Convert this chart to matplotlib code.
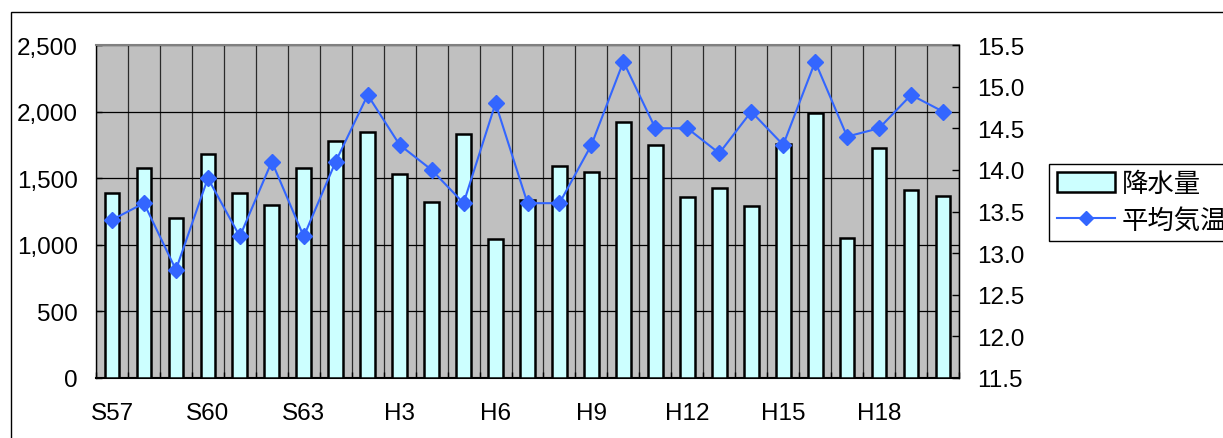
import matplotlib
matplotlib.use('Agg')
import matplotlib.pyplot as plt
import numpy as np
from matplotlib.patches import Rectangle
from matplotlib.lines import Line2D

years = ['S57', 'S58', 'S59', 'S60', 'S61', 'S62', 'S63', 'H1', 'H2', 'H3',
         'H4', 'H5', 'H6', 'H7', 'H8', 'H9', 'H10', 'H11', 'H12', 'H13',
         'H14', 'H15', 'H16', 'H17', 'H18', 'H19', 'H20']
precip = [1390, 1580, 1200, 1680, 1390, 1300, 1580, 1780, 1850, 1530,
          1320, 1830, 1040, 1340, 1590, 1545, 1920, 1750, 1360, 1425,
          1290, 1760, 1990, 1050, 1730, 1410, 1370]
temp = [13.4, 13.6, 12.8, 13.9, 13.2, 14.1, 13.2, 14.1, 14.9, 14.3,
        14.0, 13.6, 14.8, 13.6, 13.6, 14.3, 15.3, 14.5, 14.5, 14.2,
        14.7, 14.3, 15.3, 14.4, 14.5, 14.9, 14.7]
left_ticks = [0, 500, 1000, 1500, 2000, 2500]
right_ticks = [11.5, 12.0, 12.5, 13.0, 13.5, 14.0, 14.5, 15.0, 15.5]
series_names = ['降水量', '平均気温']

W, H = 1223, 439
plt.rcParams['font.family'] = ['Liberation Sans', 'Noto Sans CJK JP', 'DejaVu Sans']

fig = plt.figure(figsize=(W / 100, H / 100), dpi=100)
fig.patch.set_facecolor('white')

# outer chart frame
fig.patches.append(Rectangle((11 / W, -1), 5, 2 - 13 / H, transform=fig.transFigure,
                             fill=False, edgecolor='black', lw=1.0, zorder=0))

ax = fig.add_axes([96 / W, 1 - 379 / H, 863 / W, 333 / H])
ax.set_facecolor('#C0C0C0')
x = np.arange(len(years))
bar_color = '#CCFFFF'
line_color = '#3366FF'

ax.set_axisbelow(True)
ax.bar(x, precip, width=0.46, color=bar_color, edgecolor='black', lw=1.8, zorder=3)
ax.set_xlim(-0.5, len(years) - 0.5)
ax.set_ylim(0, 2500)
ax.set_yticks(left_ticks)
ax.set_yticklabels([f'{v:,}' for v in left_ticks])
ax.yaxis.grid(True, color='black', lw=0.9)

ax.set_xticks(np.arange(-0.5, len(years), 1), minor=True)
ax.xaxis.grid(True, which='minor', color='#2a2a2a', lw=0.9)
ax.set_xticks(x[::3])
ax.set_xticklabels(years[::3])
ax.tick_params(axis='x', which='major', length=0, pad=17, labelsize=17.5)
ax.tick_params(axis='x', which='minor', direction='in', length=4, width=1, color='black')
ax.tick_params(axis='y', direction='in', length=4, width=1, pad=13, labelsize=17.5)

for s in ['left', 'right']:
    ax.spines[s].set_color('black')
    ax.spines[s].set_linewidth(1.0)
ax.spines['bottom'].set_color('black')
ax.spines['bottom'].set_linewidth(1.5)
ax.spines['top'].set_color('#808080')
ax.spines['top'].set_linewidth(1.5)

ax2 = ax.twinx()
ax2.plot(x, temp, color=line_color, lw=1.5, marker='D', ms=8,
         markerfacecolor=line_color, markeredgecolor=line_color, zorder=5)
ax2.set_ylim(11.5, 15.5)
ax2.set_yticks(right_ticks)
ax2.set_yticklabels([f'{v:.1f}' for v in right_ticks])
ax2.tick_params(axis='y', direction='in', length=5, width=1, pad=13, labelsize=17.5)
ax2.spines['right'].set_color('black')
ax2.spines['top'].set_visible(False)
ax2.spines['left'].set_visible(False)
ax2.spines['bottom'].set_visible(False)

handles = [
    Rectangle((0, 0), 1, 1, facecolor=bar_color, edgecolor='black', lw=1.8),
    Line2D([0], [0], color=line_color, lw=1.5, marker='D', ms=7,
           markerfacecolor=line_color, markeredgecolor=line_color),
]
leg = fig.legend(handles, series_names, loc='upper left',
                 bbox_to_anchor=(1049 / W, 1 - 165 / H), bbox_transform=fig.transFigure,
                 frameon=True, fancybox=False, edgecolor='black', framealpha=1,
                 fontsize=19, handlelength=2.2, handleheight=0.8, handletextpad=0.25,
                 borderpad=0.3, labelspacing=0.45, borderaxespad=0)
leg.get_frame().set_linewidth(1.0)

fig.savefig('out.png', dpi=100)
